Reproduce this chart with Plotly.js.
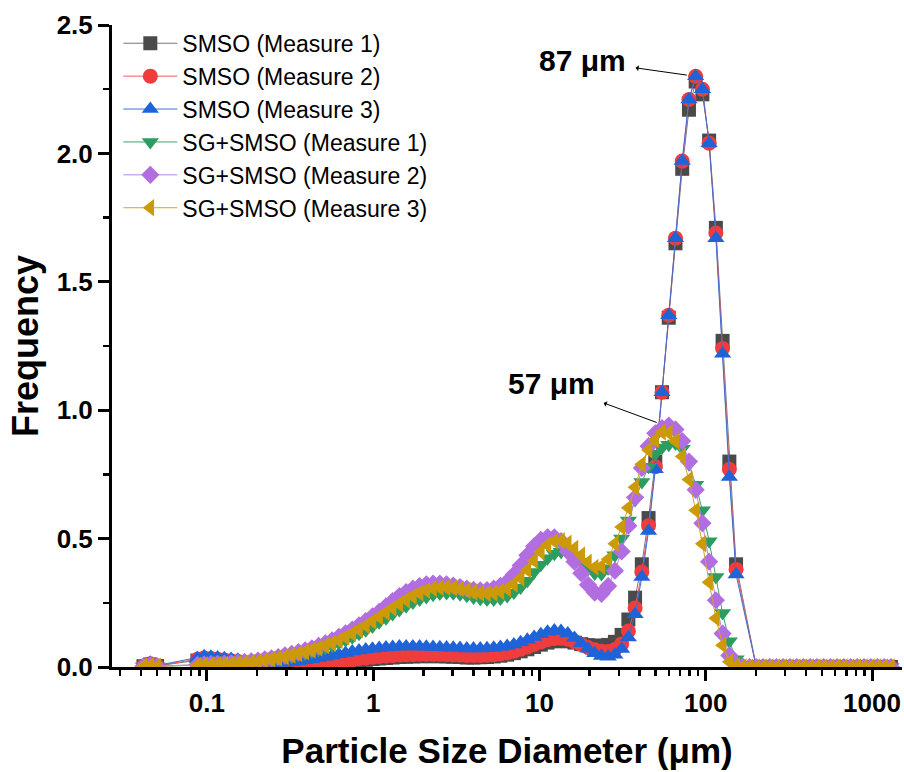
<!DOCTYPE html>
<html>
<head>
<meta charset="utf-8">
<script src="https://cdn.plot.ly/plotly-3.0.1.min.js"></script>
<style>
  html, body { margin: 0; padding: 0; background: #ffffff; }
  #chart { width: 904px; height: 772px; }
</style>
</head>
<body>
<div id="chart"></div>
<script>
// Particle size bins (µm), log-spaced channels
const sizes = [0.0415, 0.0456, 0.0501,
  0.0876, 0.0962, 0.1056, 0.1159, 0.1272, 0.1397, 0.1533, 0.1683, 0.1848, 0.2028,
  0.2227, 0.2444, 0.2683, 0.2945, 0.3233, 0.3549, 0.3896, 0.4277, 0.4695, 0.5153,
  0.5657, 0.6210, 0.6816, 0.7482, 0.8213, 0.9016, 0.9897, 1.086, 1.193, 1.309,
  1.437, 1.578, 1.732, 1.901, 2.087, 2.291, 2.515, 2.761, 3.031, 3.327,
  3.653, 4.010, 4.402, 4.832, 5.304, 5.823, 6.392, 7.016, 7.702, 8.455,
  9.281, 10.19, 11.18, 12.28, 13.48, 14.80, 16.24, 17.83, 19.57, 21.49,
  23.59, 25.89, 28.42, 31.20, 34.25, 37.59, 41.27, 45.30, 49.73, 54.58,
  59.92, 65.77, 72.20, 79.25, 87.0, 95.5, 104.8, 115.1, 126.3, 138.7,
  152.2, 167.1, 183.4, 201.4,
  221.0, 242.7, 266.4, 292.4, 321.0, 352.4, 386.8, 424.6, 466.1, 511.7,
  561.7, 616.6, 676.9, 743.0, 815.6, 895.3, 982.9, 1079, 1184, 1300];

// SMSO, three measurements
const smso1 = [0.003, 0.010, 0.004,
  0.025, 0.030, 0.028, 0.025, 0.022, 0.019, 0.016, 0.013, 0.011, 0.009,
  0.007, 0.005, 0.004, 0.003, 0.003, 0.004, 0.005, 0.006, 0.008, 0.010,
  0.013, 0.016, 0.019, 0.022, 0.025, 0.028, 0.031, 0.033, 0.035, 0.037,
  0.039, 0.040, 0.041, 0.042, 0.042, 0.042, 0.042, 0.041, 0.040, 0.039,
  0.037, 0.037, 0.038, 0.039, 0.041, 0.044, 0.048, 0.054, 0.061, 0.069,
  0.078, 0.087, 0.095, 0.100, 0.102, 0.100, 0.095, 0.089, 0.085, 0.083,
  0.083, 0.086, 0.098, 0.125, 0.185, 0.270, 0.400, 0.580, 0.800, 1.070,
  1.360, 1.650, 1.940, 2.170, 2.280, 2.230, 2.050, 1.710, 1.270, 0.800,
  0.400, null, null, 0,
  0, 0, 0, 0, 0, 0, 0, 0, 0, 0, 0, 0, 0, 0, 0, 0, 0, 0, 0, 0];

const smso2 = [0.004, 0.013, 0.005,
  0.030, 0.035, 0.033, 0.030, 0.027, 0.024, 0.021, 0.018, 0.015, 0.012,
  0.010, 0.008, 0.007, 0.006, 0.006, 0.007, 0.008, 0.010, 0.012, 0.015,
  0.018, 0.021, 0.025, 0.028, 0.032, 0.035, 0.038, 0.041, 0.043, 0.045,
  0.047, 0.048, 0.049, 0.050, 0.050, 0.050, 0.050, 0.049, 0.048, 0.047,
  0.045, 0.045, 0.045, 0.046, 0.048, 0.051, 0.055, 0.061, 0.069, 0.078,
  0.088, 0.098, 0.106, 0.111, 0.112, 0.108, 0.099, 0.088, 0.076, 0.067,
  0.061, 0.060, 0.068, 0.090, 0.140, 0.230, 0.370, 0.550, 0.780, 1.070,
  1.370, 1.670, 1.970, 2.210, 2.300, 2.250, 2.040, 1.690, 1.240, 0.770,
  0.380, null, null, 0,
  0, 0, 0, 0, 0, 0, 0, 0, 0, 0, 0, 0, 0, 0, 0, 0, 0, 0, 0, 0];

const smso3 = [0.005, 0.017, 0.006,
  0.035, 0.042, 0.040, 0.037, 0.034, 0.031, 0.028, 0.025, 0.022, 0.020,
  0.018, 0.017, 0.016, 0.017, 0.019, 0.022, 0.026, 0.030, 0.035, 0.040,
  0.045, 0.050, 0.055, 0.060, 0.064, 0.068, 0.071, 0.074, 0.076, 0.078,
  0.080, 0.080, 0.080, 0.080, 0.079, 0.078, 0.077, 0.076, 0.075, 0.074,
  0.072, 0.072, 0.072, 0.073, 0.075, 0.078, 0.082, 0.088, 0.096, 0.106,
  0.117, 0.128, 0.137, 0.142, 0.140, 0.130, 0.113, 0.092, 0.071, 0.054,
  0.043, 0.040, 0.048, 0.070, 0.115, 0.205, 0.350, 0.530, 0.770, 1.070,
  1.370, 1.670, 1.970, 2.210, 2.300, 2.250, 2.040, 1.670, 1.220, 0.740,
  0.360, null, null, 0,
  0, 0, 0, 0, 0, 0, 0, 0, 0, 0, 0, 0, 0, 0, 0, 0, 0, 0, 0, 0];

// SG+SMSO, three measurements
const sgsmso1 = [0.002, 0.006, 0.003,
  0.005, 0.006, 0.007, 0.008, 0.009, 0.010, 0.012, 0.013, 0.015, 0.018,
  0.022, 0.026, 0.030, 0.035, 0.040, 0.046, 0.052, 0.059, 0.066, 0.074,
  0.083, 0.093, 0.104, 0.116, 0.129, 0.143, 0.158, 0.174, 0.190, 0.206,
  0.222, 0.237, 0.251, 0.263, 0.273, 0.281, 0.286, 0.288, 0.287, 0.283,
  0.277, 0.271, 0.266, 0.263, 0.263, 0.267, 0.276, 0.290, 0.310, 0.336,
  0.370, 0.398, 0.423, 0.441, 0.449, 0.446, 0.432, 0.410, 0.382, 0.364,
  0.362, 0.385, 0.435, 0.500, 0.570, 0.650, 0.720, 0.780, 0.830, 0.855,
  0.865, 0.870, 0.850, 0.790, 0.710, 0.610, 0.490, 0.350, 0.210, 0.100,
  0.030, 0.005, 0, 0,
  0, 0, 0, 0, 0, 0, 0, 0, 0, 0, 0, 0, 0, 0, 0, 0, 0, 0, 0, 0];

const sgsmso2 = [0.003, 0.007, 0.003,
  0.008, 0.010, 0.011, 0.012, 0.013, 0.015, 0.017, 0.019, 0.022, 0.025,
  0.030, 0.034, 0.039, 0.045, 0.051, 0.058, 0.065, 0.073, 0.082, 0.092,
  0.104, 0.117, 0.131, 0.146, 0.162, 0.179, 0.197, 0.215, 0.236, 0.257,
  0.276, 0.292, 0.305, 0.315, 0.322, 0.325, 0.325, 0.322, 0.317, 0.311,
  0.305, 0.300, 0.298, 0.299, 0.305, 0.316, 0.332, 0.360, 0.395, 0.435,
  0.470, 0.495, 0.505, 0.505, 0.490, 0.450, 0.410, 0.365, 0.320, 0.290,
  0.285, 0.315, 0.375, 0.450, 0.550, 0.660, 0.775, 0.860, 0.910, 0.930,
  0.940, 0.925, 0.880, 0.800, 0.690, 0.560, 0.410, 0.260, 0.130, 0.045,
  0.012, 0.002, 0, 0,
  0, 0, 0, 0, 0, 0, 0, 0, 0, 0, 0, 0, 0, 0, 0, 0, 0, 0, 0, 0];

const sgsmso3 = [0.003, 0.006, 0.003,
  0.006, 0.008, 0.009, 0.010, 0.011, 0.012, 0.014, 0.016, 0.018, 0.021,
  0.026, 0.030, 0.035, 0.040, 0.046, 0.052, 0.059, 0.066, 0.074, 0.083,
  0.093, 0.104, 0.116, 0.130, 0.145, 0.161, 0.178, 0.195, 0.212, 0.229,
  0.245, 0.261, 0.275, 0.288, 0.298, 0.305, 0.309, 0.310, 0.308, 0.304,
  0.298, 0.292, 0.288, 0.286, 0.288, 0.294, 0.305, 0.322, 0.346, 0.378,
  0.414, 0.448, 0.475, 0.490, 0.492, 0.482, 0.462, 0.436, 0.408, 0.388,
  0.392, 0.420, 0.480, 0.545, 0.620, 0.700, 0.790, 0.845, 0.885, 0.915,
  0.912, 0.880, 0.820, 0.730, 0.610, 0.480, 0.330, 0.190, 0.085, 0.020,
  0.004, 0, 0, 0,
  0, 0, 0, 0, 0, 0, 0, 0, 0, 0, 0, 0, 0, 0, 0, 0, 0, 0, 0, 0];

const seriesNames = ['SMSO (Measure 1)', 'SMSO (Measure 2)', 'SMSO (Measure 3)',
  'SG+SMSO (Measure 1)', 'SG+SMSO (Measure 2)', 'SG+SMSO (Measure 3)'];

// Modal sizes marked on the chart
const peakSizes = [87, 57];
const peakTexts = ['87 μm', '57 μm'];

// x-axis tick labels
const xTickVals = [0.1, 1, 10, 100, 1000];
const xTickText = ['0.1', '1', '10', '100', '1000'];

const FONT = 'Liberation Sans, Arial, Helvetica, sans-serif';
const seriesData = [smso1, smso2, smso3, sgsmso1, sgsmso2, sgsmso3];
const symbols = ['square', 'circle', 'triangle-up', 'triangle-down', 'diamond', 'triangle-left'];
const markerColors = ['#4a4a4a', '#f03c3c', '#1f63d8', '#2c9d60', '#b26ee0', '#cc9a06'];
const lineColors = ['#777777', '#f05a5a', '#3a6fd8', '#3aa56a', '#b884e2', '#d0a52a'];
const markerSizes = [14, 15, 15, 15, 14, 15];

const traces = seriesData.map((ys, i) => ({
  type: 'scatter',
  mode: 'lines+markers',
  name: seriesNames[i],
  x: sizes,
  y: ys,
  connectgaps: true,
  line: { color: lineColors[i], width: 1 },
  marker: { symbol: symbols[i], size: markerSizes[i], color: markerColors[i], line: { width: 0 } }
}));

// minor ticks at 2..9 of every decade
const minorX = [];
for (let e = -2; e <= 2; e++) {
  for (let m = 2; m <= 9; m++) minorX.push(m * Math.pow(10, e));
}

const peakY = [Math.max(...smso3.filter(v => v !== null)), Math.max(...sgsmso2)];
const arrowOffsets = [[-113, -16], [-114, -42]];

const annotations = peakSizes.map((s, i) => ({
  x: Math.log10(s), y: peakY[i], xref: 'x', yref: 'y',
  text: peakTexts[i],
  showarrow: true, arrowside: 'start', arrowhead: 2, arrowsize: 1.3, arrowwidth: 1,
  arrowcolor: '#000', standoff: 9, startstandoff: 8,
  ax: arrowOffsets[i][0], ay: arrowOffsets[i][1],
  font: { family: FONT, size: 30, weight: 'bold', color: '#000' }
}));

const axisCommon = {
  showline: true, linewidth: 3, linecolor: '#000', mirror: false,
  ticks: 'outside', ticklen: 11, tickwidth: 3, tickcolor: '#000',
  showgrid: false, zeroline: false, automargin: false,
  tickfont: { family: FONT, size: 26, weight: 'bold', color: '#000' }
};

const layout = {
  width: 904, height: 772,
  margin: { l: 112, r: 2, t: 25, b: 105 },
  paper_bgcolor: '#ffffff', plot_bgcolor: '#ffffff',
  showlegend: true,
  legend: {
    x: 0.008, y: 1.005, xanchor: 'left', yanchor: 'top',
    bgcolor: 'rgba(0,0,0,0)', borderwidth: 0,
    font: { family: FONT, size: 23, color: '#000' },
    itemwidth: 54, tracegroupgap: 0
  },
  xaxis: Object.assign({}, axisCommon, {
    type: 'log',
    range: [Math.log10(0.02685), Math.log10(1515)],
    tickmode: 'array', tickvals: xTickVals, ticktext: xTickText,
    minor: { tickmode: 'array', tickvals: minorX, ticks: 'outside', ticklen: 6, tickwidth: 2.5, tickcolor: '#000', showgrid: false },
    title: { text: 'Particle Size Diameter (μm)', standoff: 22,
      font: { family: FONT, size: 35, weight: 'bold', color: '#000' } }
  }),
  yaxis: Object.assign({}, axisCommon, {
    range: [0, 2.5], tick0: 0, dtick: 0.5, tickformat: '.1f',
    minor: { dtick: 0.25, tick0: 0, ticks: 'outside', ticklen: 6, tickwidth: 2.5, tickcolor: '#000', showgrid: false },
    title: { text: 'Frequency', standoff: 8,
      font: { family: FONT, size: 36, weight: 'bold', color: '#000' } }
  }),
  annotations: annotations
};

Plotly.newPlot('chart', traces, layout, { displayModeBar: false, staticPlot: true });
</script>
</body>
</html>
